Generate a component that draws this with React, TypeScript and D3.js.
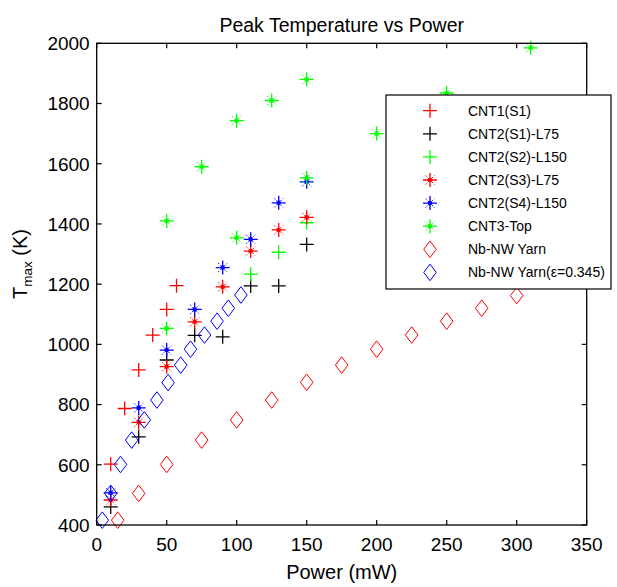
import React from "react";
import * as d3 from "d3";

const xTicks = [0, 50, 100, 150, 200, 250, 300, 350];
const yTicks = [400, 600, 800, 1000, 1200, 1400, 1600, 1800, 2000];

const cnt1S1X = [10, 20, 30, 40, 50, 57];
const cnt1S1Y = [602, 787, 915, 1031, 1116, 1195];

const cnt2S1X = [10, 30, 50, 70, 90, 110, 130, 150];
const cnt2S1Y = [460, 693, 948, 1030, 1025, 1194, 1194, 1332];

const cnt2S2X = [110, 130, 150];
const cnt2S2Y = [1233, 1306, 1404];

const cnt2S3X = [10, 30, 50, 70, 90, 110, 130, 150];
const cnt2S3Y = [483, 741, 926, 1075, 1191, 1310, 1380, 1422];

const cnt2S4X = [10, 30, 50, 70, 90, 110, 130, 150];
const cnt2S4Y = [507, 789, 981, 1116, 1255, 1349, 1470, 1540];

const cnt3X = [50, 50, 75, 100, 100, 125, 150, 150, 200, 250, 310];
const cnt3Y = [1053, 1410, 1590, 1743, 1354, 1810, 1880, 1553, 1700, 1835, 1985];

const nbX = [15, 30, 50, 75, 100, 125, 150, 175, 200, 225, 250, 275, 300];
const nbY = [416, 505, 601, 682, 749, 815, 874, 931, 984, 1031, 1077, 1120, 1162];

const nbEpsX = [4, 10, 17, 25, 34, 43, 51, 60, 67, 77, 86, 94, 103];
const nbEpsY = [416, 505, 601, 682, 749, 815, 873, 931, 984, 1031, 1077, 1120, 1164];

const seriesNames = [
  "CNT1(S1)",
  "CNT2(S1)-L75",
  "CNT2(S2)-L150",
  "CNT2(S3)-L75",
  "CNT2(S4)-L150",
  "CNT3-Top",
  "Nb-NW Yarn",
  "Nb-NW Yarn(ε=0.345)",
];

type Marker = "plus" | "star" | "diamond";

const series: { name: string; xs: number[]; ys: number[]; color: string; marker: Marker }[] = [
  { name: seriesNames[0], xs: cnt1S1X, ys: cnt1S1Y, color: "#ff0000", marker: "plus" },
  { name: seriesNames[1], xs: cnt2S1X, ys: cnt2S1Y, color: "#000000", marker: "plus" },
  { name: seriesNames[2], xs: cnt2S2X, ys: cnt2S2Y, color: "#00ff00", marker: "plus" },
  { name: seriesNames[3], xs: cnt2S3X, ys: cnt2S3Y, color: "#ff0000", marker: "star" },
  { name: seriesNames[4], xs: cnt2S4X, ys: cnt2S4Y, color: "#0000ff", marker: "star" },
  { name: seriesNames[5], xs: cnt3X, ys: cnt3Y, color: "#00ff00", marker: "star" },
  { name: seriesNames[6], xs: nbX, ys: nbY, color: "#ff0000", marker: "diamond" },
  { name: seriesNames[7], xs: nbEpsX, ys: nbEpsY, color: "#0000ff", marker: "diamond" },
];

const FONT = "'Liberation Sans', Arial, sans-serif";

function MarkerShape({ kind, x, y, color }: { kind: Marker; x: number; y: number; color: string }) {
  if (kind === "plus") {
    const h = 7;
    return (
      <path
        d={`M${x - h},${y}H${x + h}M${x},${y - h}V${y + h}`}
        stroke={color}
        strokeWidth={1.3}
        fill="none"
      />
    );
  }
  if (kind === "star") {
    const h = 7;
    const dd = 4.5;
    return (
      <g>
        <path
          d={`M${x - h},${y}H${x + h}M${x},${y - h}V${y + h}`}
          stroke={color}
          strokeWidth={1.3}
          fill="none"
        />
        <path
          d={`M${x - dd},${y - dd}L${x + dd},${y + dd}M${x - dd},${y + dd}L${x + dd},${y - dd}`}
          stroke={color}
          strokeWidth={1}
          strokeDasharray="1.5,1.5"
          fill="none"
        />
        <circle cx={x} cy={y} r={2.3} fill={color} />
      </g>
    );
  }
  const w = 6.3;
  const hh = 8.3;
  return (
    <path
      d={`M${x},${y - hh}L${x + w},${y}L${x},${y + hh}L${x - w},${y}Z`}
      stroke={color}
      strokeWidth={1}
      fill="none"
    />
  );
}

export default function App() {
  const width = 617;
  const height = 587;
  const left = 96.7;
  const right = 586.7;
  const top = 43.3;
  const bottom = 525;

  const x = d3.scaleLinear().domain([0, 350]).range([left, right]);
  const y = d3.scaleLinear().domain([400, 2000]).range([bottom, top]);

  const tickLen = 5;
  const axisColor = "#000";

  const legX = 386;
  const legY = 95;
  const legW = 225;
  const legH = 194;
  const rowY0 = 110.7;
  const rowStep = 23.1;

  return (
    <svg
      width={width}
      height={height}
      style={{ position: "absolute", left: 0, top: 0, background: "#fff" }}
    >
      <rect x={0} y={0} width={width} height={height} fill="#fff" />
      <text
        x={(left + right) / 2}
        y={32}
        textAnchor="middle"
        fontFamily={FONT}
        fontSize={19.5}
        fill="#000"
      >
        Peak Temperature vs Power
      </text>

      {/* ticks */}
      {xTicks.map((t) => (
        <g key={"xt" + t}>
          <line x1={x(t)} x2={x(t)} y1={bottom} y2={bottom - tickLen} stroke={axisColor} strokeWidth={1.2} />
          <line x1={x(t)} x2={x(t)} y1={top} y2={top + tickLen} stroke={axisColor} strokeWidth={1.2} />
          <text
            x={x(t)}
            y={bottom + 25.5}
            textAnchor="middle"
            fontFamily={FONT}
            fontSize={19}
            fill="#000"
          >
            {t}
          </text>
        </g>
      ))}
      {yTicks.map((t) => (
        <g key={"yt" + t}>
          <line x1={left} x2={left + tickLen} y1={y(t)} y2={y(t)} stroke={axisColor} strokeWidth={1.2} />
          <line x1={right} x2={right - tickLen} y1={y(t)} y2={y(t)} stroke={axisColor} strokeWidth={1.2} />
          <text
            x={left - 7}
            y={y(t) + 6.8}
            textAnchor="end"
            fontFamily={FONT}
            fontSize={19}
            fill="#000"
          >
            {t}
          </text>
        </g>
      ))}

      {/* data */}
      {series.map((s) => (
        <g key={s.name}>
          {s.xs.map((xv, i) => (
            <MarkerShape key={i} kind={s.marker} x={x(xv)} y={y(s.ys[i])} color={s.color} />
          ))}
        </g>
      ))}

      {/* box */}
      <rect
        x={left}
        y={top}
        width={right - left}
        height={bottom - top}
        fill="none"
        stroke={axisColor}
        strokeWidth={1.3}
      />

      {/* axis labels */}
      <text
        x={(left + right) / 2}
        y={579}
        textAnchor="middle"
        fontFamily={FONT}
        fontSize={20}
        fill="#000"
      >
        Power (mW)
      </text>
      <text
        transform={`translate(27,264) rotate(-90)`}
        textAnchor="middle"
        fontFamily={FONT}
        fontSize={20}
        fill="#000"
      >
        T
        <tspan fontSize={13.5} dy={5}>max</tspan>
        <tspan dy={-5}> (K)</tspan>
      </text>

      {/* legend */}
      <rect x={legX} y={legY} width={legW} height={legH} fill="#fff" stroke="#000" strokeWidth={1.2} />
      {series.map((s, i) => (
        <g key={"leg" + s.name}>
          <MarkerShape kind={s.marker} x={430} y={rowY0 + i * rowStep} color={s.color} />
          <text
            x={468}
            y={rowY0 + i * rowStep + 5}
            fontFamily={FONT}
            fontSize={14}
            fill="#000"
          >
            {s.name}
          </text>
        </g>
      ))}
    </svg>
  );
}
